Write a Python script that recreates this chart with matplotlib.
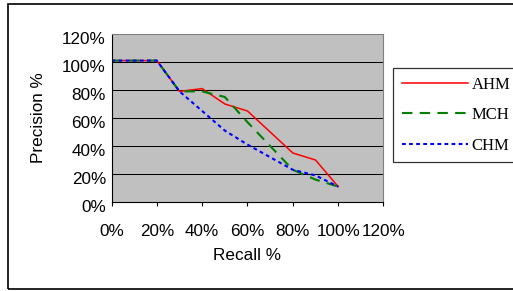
import matplotlib
matplotlib.use("Agg")
import matplotlib.pyplot as plt
import matplotlib.transforms as mtransforms
from matplotlib.patches import Rectangle
from matplotlib.ticker import FuncFormatter

# recall levels (fraction) and precision (%)
recall = [0.0, 0.1, 0.2, 0.3, 0.4, 0.5, 0.6, 0.7, 0.8, 0.9, 1.0]
ahm = [101, 101, 101, 79, 81, 70, 65, 50, 35, 30, 11]
mch = [101, 101, 101, 79, 79, 75, 57, 40, 23, 16, 11]
chm = [101, 101, 101, 79, 65, 51, 41, 32, 23, 19, 11]

x_ticks = [0, 0.2, 0.4, 0.6, 0.8, 1.0, 1.2]
y_ticks = [0, 20, 40, 60, 80, 100, 120]

plt.rcParams["font.family"] = ["Liberation Sans", "DejaVu Sans"]

fig = plt.figure(figsize=(5.13, 2.91), dpi=100)
ax = fig.add_axes([111.5 / 513, 1 - 202 / 291, 272 / 513, 168 / 291])
ax.set_facecolor("#C0C0C0")

ax.plot(recall, ahm, color="#FF0000", lw=1.1, label="AHM")
ax.plot(recall, mch, color="#008000", lw=1.5, linestyle=(0, (5, 3.5)), label="MCH")
ax.plot(recall, chm, color="#0000FF", lw=1.5, linestyle=(0, (1.8, 1.6)), label="CHM")

ax.set_xlim(0, 1.2)
ax.set_ylim(0, 120)
ax.set_xticks(x_ticks)
ax.set_yticks(y_ticks)
ax.xaxis.set_major_formatter(FuncFormatter(lambda v, p: f"{v * 100:.0f}%"))
ax.yaxis.set_major_formatter(FuncFormatter(lambda v, p: f"{v:.0f}%"))
ax.tick_params(axis="x", length=3, width=0.8, pad=13, labelsize=12.3)
ax.tick_params(axis="y", length=0, pad=4, labelsize=12.3)

# Excel puts the value labels a little below their gridline
shift = mtransforms.ScaledTranslation(0, -3 / 72, fig.dpi_scale_trans)
for lbl in ax.get_yticklabels():
    lbl.set_transform(lbl.get_transform() + shift)

for yv in y_ticks[1:-1]:
    ax.axhline(yv, color="black", lw=0.75, zorder=1)

ax.spines["left"].set_color("black")
ax.spines["bottom"].set_color("black")
ax.spines["top"].set_color("#808080")
ax.spines["right"].set_color("#808080")
for s in ax.spines.values():
    s.set_linewidth(0.8)

ax.set_xlabel("Recall %", fontsize=12.3, labelpad=6)
ax.set_ylabel("Precision %", fontsize=12.3, labelpad=12)

leg = fig.legend(
    loc="upper left",
    bbox_to_anchor=(393 / 513, 1 - 68 / 291),
    prop={"family": "Liberation Serif", "size": 12},
    frameon=True,
    fancybox=False,
    edgecolor="black",
    handlelength=3.95,
    handletextpad=0.25,
    borderpad=0.52,
    labelspacing=0.87,
    borderaxespad=0,
)
leg.get_frame().set_linewidth(0.9)

# outer chart-area border
fig.patches.append(
    Rectangle((8 / 513, 1 - 289 / 291), 1.02 - 8 / 513, (289 - 3.5) / 291,
              transform=fig.transFigure, fill=False, edgecolor="black",
              lw=1.2, clip_on=False)
)

fig.savefig("out.png", dpi=100)
